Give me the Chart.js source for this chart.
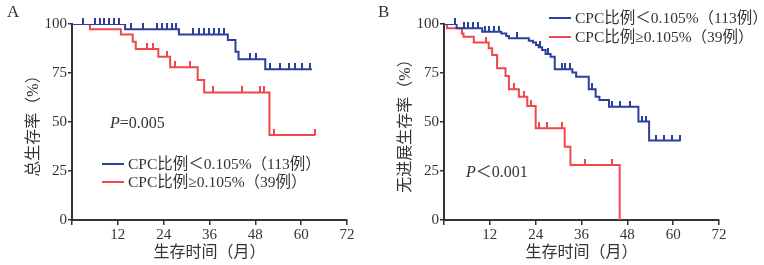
<!DOCTYPE html>
<html>
<head>
<meta charset="utf-8">
<script src="https://cdn.jsdelivr.net/npm/chart.js@4"></script>
<style>
  body { margin: 0; background: #fff; }
  #wrap { position: relative; width: 764px; height: 265px; overflow: hidden; font-family: "Liberation Serif", "Noto Sans CJK SC", serif; color: #333; }
  .panel { position: absolute; top: 0; width: 382px; height: 265px; }
  .lbl { position: absolute; white-space: nowrap; line-height: 1; }
  .key { position: absolute; height: 2px; width: 22px; }
</style>
</head>
<body>
<div id="wrap">
  <div class="panel" style="left:0"><canvas id="chartA"></canvas></div>
  <div class="panel" style="left:382px"><canvas id="chartB"></canvas></div>

  <div class="lbl" style="left:7px;top:3px;font-size:17px">A</div>
  <div class="lbl" style="left:378px;top:3px;font-size:17px">B</div>

  <div class="lbl" style="left:110px;top:115px;font-size:16px"><i>P</i>=0.005</div>
  <div class="key" style="left:102px;top:163px;background:#2b3f9c"></div>
  <div class="lbl" style="left:128px;top:156px;font-size:15.5px">CPC比例＜0.105%（113例）</div>
  <div class="key" style="left:102px;top:181px;background:#f1474b"></div>
  <div class="lbl" style="left:128px;top:174px;font-size:15.5px">CPC比例≥0.105%（39例）</div>

  <div class="lbl" style="left:466px;top:164px;font-size:16px"><i>P</i>＜0.001</div>
  <div class="key" style="left:549px;top:17px;background:#2b3f9c"></div>
  <div class="lbl" style="left:575px;top:10px;font-size:15.5px">CPC比例＜0.105%（113例）</div>
  <div class="key" style="left:549px;top:36px;background:#f1474b"></div>
  <div class="lbl" style="left:575px;top:29px;font-size:15.5px">CPC比例≥0.105%（39例）</div>
</div>

<script>
// 月份刻度
const xTicks = [0, 12, 24, 36, 48, 60, 72];
const yTicks = [0, 25, 50, 75, 100];

// A: 总生存率
const osLowTime = [0, 13.9, 28, 40.8, 42.8, 43.6, 50.6, 62.8];
const osLowSurv = [100, 97.3, 94.7, 91.8, 85.9, 82.0, 76.9, 76.9];
const osLowCensor = [2.8, 5.9, 7.2, 8.5, 9.8, 11.1, 12.4, 15.5, 18.5, 22.2, 23.5, 24.8, 26.1, 27.2,
  31.8, 33.3, 34.6, 35.9, 37.2, 38.5, 39.9, 46.5, 48.3, 51.9, 54.5, 56.7, 58.5, 60.2, 62.4];

const osHighTime = [0, 4.7, 12.8, 15.9, 16.7, 22.6, 25.7, 32.9, 34.6, 51.7, 63.7];
const osHighSurv = [100, 97.3, 94.7, 91.0, 87.2, 83.3, 77.9, 71.4, 65.1, 43.4, 43.4];
const osHighCensor = [19.6, 21.2, 24.8, 27.0, 30.9, 36.9, 44.5, 49.3, 50.2, 52.8, 63.7];

// B: 无进展生存率
const pfsLowTime = [0, 3.3, 10, 15, 16.3, 17, 22.2, 23.3, 24.1, 24.8, 25.7, 26.6, 27.9, 29,
  33.6, 34.6, 37.9, 39.7, 40.7, 43.2, 50.9, 53.7, 62];
const pfsLowSurv = [100, 97.8, 96.0, 95.2, 93.9, 92.7, 91.5, 90.5, 89.3, 88.1, 86.7, 84.7, 83.3, 76.9,
  75.2, 73.1, 66.7, 62.9, 61.2, 57.8, 50.2, 40.5, 40.5];
const pfsLowCensor = [2.8, 5.2, 6.3, 7.5, 8.8, 10.8, 11.9, 13.1, 14.3, 19.1, 25.2, 27.2, 30.8, 31.8, 33.1,
  38.8, 44, 46.2, 48.8, 51.9, 52.8, 55.4, 57.6, 59.8, 61.8];

const pfsHighTime = [0, 0.8, 4.7, 5.1, 7.8, 11.7, 12.6, 13.9, 16.1, 17, 19.6, 21.8, 24, 31.6, 33.1, 46];
const pfsHighSurv = [100, 97.8, 95.2, 93.5, 90.5, 87.6, 84.2, 77.4, 73.5, 66.7, 62.9, 58.2, 46.8, 37.4, 28.1, 0];
const pfsHighCensor = [11, 18.4, 20.9, 22.9, 24.8, 27.0, 30.9, 36.9, 43.9];

const BLUE = "#2b3f9c";
const RED = "#f1474b";
const INK = "#333";

function curve(times, surv) {
    return times.map(function (t, i) { return { x: t, y: surv[i] }; });
}

// 删失点取所在阶梯的生存率
function censorPoints(times, surv, cens) {
    return cens.map(function (t) {
        let v = surv[0];
        for (let i = 0; i < times.length; i++) {
            if (times[i] <= t) v = surv[i];
        }
        return { x: t, y: v };
    });
}

function tickMark(color) {
    const c = document.createElement("canvas");
    c.width = 2;
    c.height = 12;
    const g = c.getContext("2d");
    g.fillStyle = color;
    g.fillRect(0, 0, 2, 6);
    return c;
}

function makeChart(id, yTitle, lowT, lowS, lowC, highT, highS, highC, yWidth, rightPad, titlePad) {
    const ctx = document.getElementById(id);
    const font = { family: "'Liberation Serif', 'Noto Sans CJK SC', serif", size: 15 };
    return new Chart(ctx, {
        type: "line",
        data: {
            datasets: [
                { data: curve(lowT, lowS), borderColor: BLUE, borderWidth: 2, stepped: "before", pointRadius: 0, fill: false },
                { data: curve(highT, highS), borderColor: RED, borderWidth: 2, stepped: "before", pointRadius: 0, fill: false },
                { data: censorPoints(lowT, lowS, lowC), showLine: false, pointStyle: tickMark(BLUE), pointRadius: 3, clip: false },
                { data: censorPoints(highT, highS, highC), showLine: false, pointStyle: tickMark(RED), pointRadius: 3, clip: false }
            ]
        },
        options: {
            responsive: true,
            maintainAspectRatio: false,
            animation: false,
            layout: { padding: { left: 0, top: 24, right: rightPad, bottom: 0 } },
            plugins: { legend: { display: false }, tooltip: { enabled: false } },
            scales: {
                x: {
                    type: "linear",
                    min: 0,
                    max: 72,
                    afterBuildTicks: function (s) { s.ticks = xTicks.map(function (v) { return { value: v }; }); },
                    afterFit: function (s) { s.height = 45; },
                    grid: { drawOnChartArea: false, tickLength: 5, color: INK, lineWidth: 1.5 },
                    border: { color: INK, width: 2 },
                    ticks: {
                        font: font, color: INK, padding: 1, maxRotation: 0,
                        callback: function (v) { return v === 0 ? "" : v; }
                    },
                    title: { display: true, text: "生存时间（月）", font: { family: font.family, size: 16 }, color: INK, padding: { top: 0, bottom: 3 } }
                },
                y: {
                    min: 0,
                    max: 100,
                    afterBuildTicks: function (s) { s.ticks = yTicks.map(function (v) { return { value: v }; }); },
                    afterFit: function (s) { s.width = yWidth; },
                    grid: { drawOnChartArea: false, tickLength: 4, color: INK, lineWidth: 1.5 },
                    border: { color: INK, width: 2 },
                    ticks: { font: font, color: INK, padding: 1 },
                    title: { display: true, text: yTitle, font: { family: font.family, size: 16 }, color: INK, padding: { top: titlePad, bottom: 0 } }
                }
            }
        }
    });
}

document.addEventListener("DOMContentLoaded", function () {
    makeChart("chartA", "总生存率（%）", osLowTime, osLowSurv, osLowCensor, osHighTime, osHighSurv, osHighCensor, 72, 35, 24);
    makeChart("chartB", "无进展生存率（%）", pfsLowTime, pfsLowSurv, pfsLowCensor, pfsHighTime, pfsHighSurv, pfsHighCensor, 62, 45, 14);
});
</script>
</body>
</html>
